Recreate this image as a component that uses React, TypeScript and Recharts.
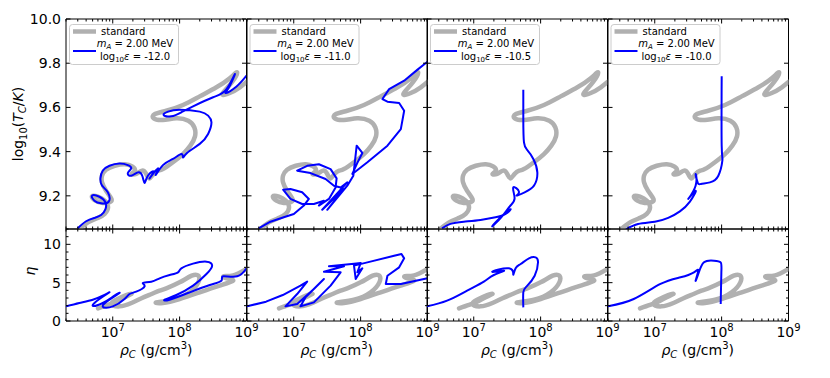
import { LineChart, Line, XAxis, YAxis, ReferenceArea } from 'recharts';

type Pt = [number, number]; // [log10 rho_C, value]

// standard track, log10(T_C/K)
const standardTop: Pt[] = [
  [6.5, 9.05], [6.63, 9.08], [6.78, 9.1], [6.88, 9.118], [6.93, 9.148], [6.88, 9.178],
  [6.78, 9.196], [6.69, 9.198], [6.74, 9.178], [6.85, 9.168], [6.95, 9.171], [6.98, 9.186],
  [6.9, 9.223], [6.84, 9.261], [6.84, 9.291], [6.9, 9.318], [7.03, 9.336], [7.18, 9.343],
  [7.29, 9.333], [7.33, 9.314], [7.28, 9.299], [7.35, 9.299], [7.44, 9.314], [7.5, 9.299],
  [7.55, 9.279], [7.61, 9.299], [7.68, 9.314], [7.75, 9.321], [7.9, 9.352], [8.05, 9.389],
  [8.16, 9.427], [8.23, 9.469], [8.22, 9.51], [8.13, 9.54], [7.95, 9.551], [7.75, 9.543],
  [7.61, 9.551], [7.63, 9.57], [7.8, 9.585], [8.05, 9.611], [8.3, 9.65], [8.55, 9.691],
  [8.75, 9.732], [8.86, 9.759], [8.78, 9.713], [8.64, 9.661], [8.75, 9.665], [8.9, 9.691],
  [9.0, 9.715],
];

// standard track, eta
const standardEta: Pt[] = [
  [6.78, 1.65], [6.93, 2.09], [7.05, 2.52], [7.18, 3.09], [7.28, 3.52], [7.2, 3.39],
  [7.05, 2.78], [6.98, 2.22], [7.1, 1.91], [7.28, 2.35], [7.43, 2.96], [7.58, 3.52],
  [7.7, 3.96], [7.8, 4.26], [8.0, 5.04], [8.18, 5.91], [8.28, 5.91], [8.28, 5.04],
  [8.15, 3.74], [7.9, 2.78], [7.65, 2.43], [7.75, 2.35], [8.0, 2.87], [8.3, 3.74],
  [8.6, 4.61], [8.8, 5.26], [8.7, 5.55], [8.66, 5.85], [8.8, 5.95], [9.0, 6.8],
];

// m_A = 2.00 MeV, log10 eps = -12.0
const blueTop12: Pt[] = [
  [6.476, 9.053], [6.601, 9.085], [6.726, 9.1], [6.826, 9.113], [6.891, 9.14], [6.891, 9.171],
  [6.801, 9.196], [6.691, 9.201], [6.726, 9.178], [6.826, 9.166], [6.941, 9.174], [6.926, 9.216],
  [6.841, 9.246], [6.816, 9.279], [6.851, 9.314], [6.951, 9.336], [7.101, 9.346], [7.226, 9.339],
  [7.276, 9.324], [7.226, 9.303], [7.276, 9.291], [7.376, 9.306], [7.441, 9.291], [7.476, 9.258],
  [7.526, 9.291], [7.611, 9.309], [7.551, 9.279], [7.676, 9.324], [7.641, 9.294], [7.751, 9.339],
  [7.901, 9.367], [8.026, 9.389], [8.051, 9.374], [8.111, 9.394], [8.301, 9.435], [8.426, 9.48],
  [8.476, 9.533], [8.426, 9.563], [8.301, 9.581], [8.001, 9.59], [7.826, 9.581], [7.761, 9.566],
  [7.876, 9.56], [8.026, 9.578], [8.201, 9.605], [8.501, 9.646], [8.701, 9.683], [8.826, 9.751],
  [8.751, 9.698], [8.691, 9.665], [8.851, 9.695], [9.0, 9.744],
];
const blueEta12: Pt[] = [
  [6.301, 1.91], [6.501, 2.35], [6.701, 2.78], [6.851, 3.3], [6.951, 3.74], [6.801, 2.87],
  [6.701, 2.0], [6.851, 2.35], [7.026, 3.3], [7.101, 3.65], [6.951, 2.78], [6.851, 1.87],
  [7.001, 1.91], [7.176, 2.87], [7.251, 3.52], [7.351, 3.83], [7.476, 4.52], [7.451, 4.96],
  [7.576, 5.13], [7.701, 5.57], [7.851, 6.0], [7.976, 6.35], [8.026, 6.87], [8.201, 7.48],
  [8.401, 7.74], [8.486, 7.22], [8.401, 6.13], [8.201, 4.61], [7.951, 3.39], [7.776, 2.78],
  [7.851, 2.78], [8.151, 3.74], [8.451, 4.7], [8.626, 5.26], [8.651, 5.83], [8.861, 5.83],
  [9.0, 6.87],
];

// log10 eps = -11.0
const blueTop11: Pt[] = [
  [6.476, 9.053], [6.651, 9.083], [6.851, 9.103], [7.001, 9.118], [7.151, 9.156], [7.226, 9.186],
  [7.126, 9.216], [6.951, 9.231], [6.841, 9.228], [6.951, 9.186], [7.126, 9.163], [7.301, 9.163],
  [7.451, 9.178], [7.376, 9.156], [7.526, 9.186], [7.626, 9.238], [7.641, 9.279], [7.551, 9.321],
  [7.376, 9.343], [7.201, 9.336], [7.051, 9.314], [7.251, 9.303], [7.476, 9.276], [7.601, 9.246],
  [7.701, 9.238], [7.801, 9.261], [7.426, 9.137], [7.751, 9.231], [7.501, 9.137], [7.801, 9.246],
  [7.891, 9.291], [7.941, 9.427], [8.026, 9.394], [7.951, 9.349], [7.876, 9.299], [8.101, 9.352],
  [8.401, 9.427], [8.601, 9.502], [8.651, 9.585], [8.576, 9.62], [8.401, 9.626], [8.326, 9.638],
  [8.426, 9.683], [8.651, 9.721], [8.851, 9.771], [9.0, 9.807],
];
const blueEta11: Pt[] = [
  [6.301, 1.91], [6.586, 2.52], [6.836, 3.39], [7.101, 4.61], [7.201, 5.13], [7.051, 3.52],
  [6.876, 1.91], [7.051, 2.22], [7.301, 4.17], [7.451, 5.48], [7.176, 3.09], [7.101, 1.91],
  [7.301, 2.43], [7.551, 4.61], [7.701, 6.35], [7.451, 6.43], [7.751, 7.13], [7.526, 7.13],
  [7.901, 7.48], [8.001, 7.57], [7.951, 6.35], [8.026, 6.87], [7.926, 5.48], [7.901, 7.22],
  [8.101, 7.65], [8.501, 8.52], [8.611, 8.74], [8.651, 8.17], [8.576, 7.0], [8.401, 5.91],
  [8.376, 4.83], [8.601, 4.83], [9.0, 5.57],
];

// log10 eps = -10.5
const blueTop105: Pt[] = [
  [6.526, 9.053], [6.651, 9.073], [6.851, 9.083], [7.101, 9.091], [7.326, 9.103], [7.476, 9.118],
  [7.551, 9.14], [7.426, 9.11], [7.276, 9.062], [7.411, 9.103], [7.541, 9.153], [7.611, 9.189],
  [7.591, 9.238], [7.676, 9.219], [7.641, 9.201], [7.761, 9.216], [7.901, 9.246], [7.951, 9.306],
  [7.891, 9.367], [7.801, 9.407], [7.751, 9.442], [7.741, 9.548], [7.741, 9.68],
];
const blueEta105: Pt[] = [
  [6.301, 1.91], [6.601, 2.65], [6.901, 3.96], [7.151, 5.13], [7.301, 6.0], [7.451, 6.57],
  [7.276, 6.43], [7.526, 6.87], [7.591, 6.04], [7.626, 6.87], [7.701, 7.43], [7.826, 8.17],
  [7.926, 8.3], [7.961, 7.65], [7.911, 5.91], [7.791, 4.52], [7.741, 3.74], [7.741, 1.78],
];

// log10 eps = -10.0
const blueTop10: Pt[] = [
  [6.576, 9.05], [6.751, 9.073], [7.001, 9.083], [7.201, 9.1], [7.376, 9.13], [7.526, 9.174],
  [7.611, 9.223], [7.501, 9.186], [7.611, 9.246], [7.611, 9.299], [7.641, 9.261], [7.691, 9.254],
  [7.826, 9.261], [7.951, 9.291], [8.011, 9.359], [8.001, 9.427], [8.001, 9.741],
];
const blueEta10: Pt[] = [
  [6.301, 1.91], [6.686, 2.87], [7.086, 4.83], [7.386, 5.7], [7.586, 6.35], [7.651, 6.57],
  [7.611, 5.26], [7.651, 6.13], [7.736, 7.65], [7.886, 7.87], [7.986, 7.65], [7.996, 6.35],
  [7.986, 2.22],
];

const epsLabels = ['-12.0', '-11.0', '-10.5', '-10.0'];
const blueTops = [blueTop12, blueTop11, blueTop105, blueTop10];
const blueEtas = [blueEta12, blueEta11, blueEta105, blueEta10];
// panel 2 has sharp spikes, keep straight segments there
const blueCurve: ('natural' | 'linear')[] = ['natural', 'linear', 'natural', 'natural'];

const xMajorTicks = [1e7, 1e8, 1e9];
const xMinorTicks = [
  2e6, 3e6, 4e6, 5e6, 6e6, 7e6, 8e6, 9e6,
  2e7, 3e7, 4e7, 5e7, 6e7, 7e7, 8e7, 9e7,
  2e8, 3e8, 4e8, 5e8, 6e8, 7e8, 8e8, 9e8,
];
const topMajorTicks = [9.2, 9.4, 9.6, 9.8, 10.0];
const etaMajorTicks = [0, 5, 10];
const etaMinorTicks = [1, 2, 3, 4, 6, 7, 8, 9, 11, 12];

const FONT = 'DejaVu Sans';
const GRAY = '#b0b0b0';
const BLUE = '#0000ff';
const PLOT_LEFT = 66;
const PLOT_W = 180.5;
const TOP_Y = 19;
const TOP_H = 210;
const BOT_Y = 229;
const BOT_H = 92;

const toRows = (pts: Pt[]) => pts.map(([lr, v]) => ({ rho: Math.pow(10, lr), v }));

function XTick(props: any) {
  const { x, y, payload, h, labels } = props;
  const v = payload.value;
  const major = xMajorTicks.includes(v);
  const len = major ? 4.5 : 2.5;
  const e = Math.round(Math.log10(v));
  return (
    <g>
      <line x1={x} y1={y} x2={x} y2={y - len} stroke="#000" strokeWidth={1} />
      <line x1={x} y1={y - h} x2={x} y2={y - h + len} stroke="#000" strokeWidth={1} />
      {labels && major && (
        <text x={x} y={y + 16} textAnchor="middle" fontSize={14} fontFamily={FONT} fill="#000">
          10<tspan dy={-6} fontSize={10}>{e}</tspan>
        </text>
      )}
    </g>
  );
}

function YTick(props: any) {
  const { x, y, payload, w, labels, majors, digits } = props;
  const v = payload.value;
  const major = majors.includes(v);
  const len = major ? 4.5 : 2.5;
  return (
    <g>
      <line x1={x} y1={y} x2={x + len} y2={y} stroke="#000" strokeWidth={1} />
      <line x1={x + w} y1={y} x2={x + w - len} y2={y} stroke="#000" strokeWidth={1} />
      {labels && major && (
        <text x={x - 5} y={y + 5} textAnchor="end" fontSize={14} fontFamily={FONT} fill="#000">
          {v.toFixed(digits)}
        </text>
      )}
    </g>
  );
}

function Panel({ col, row }: { col: number; row: number }) {
  const left = PLOT_LEFT + col * PLOT_W;
  const top = row === 0 ? TOP_Y : BOT_Y;
  const h = row === 0 ? TOP_H : BOT_H;
  const yDomain: [number, number] = row === 0 ? [9.05, 10] : [0, 12];
  const majors = row === 0 ? topMajorTicks : etaMajorTicks;
  const yTicks = row === 0 ? topMajorTicks : [...etaMajorTicks, ...etaMinorTicks];
  const std = row === 0 ? standardTop : standardEta;
  const blue = row === 0 ? blueTops[col] : blueEtas[col];

  return (
    <div style={{ position: 'absolute', left: left - 50, top: top - 10 }}>
      <LineChart width={PLOT_W + 75} height={h + 55} margin={{ top: 10, right: 25, bottom: 0, left: 0 }}>
        <XAxis
          dataKey="rho"
          type="number"
          scale="log"
          domain={[2e6, 1e9]}
          allowDataOverflow
          ticks={[...xMinorTicks, ...xMajorTicks]}
          interval={0}
          tickSize={0}
          tickMargin={0}
          axisLine={false}
          tickLine={false}
          height={45}
          tick={(p: any) => <XTick {...p} h={h} labels={row === 1} />}
        />
        <YAxis
          type="number"
          domain={yDomain}
          allowDataOverflow
          ticks={yTicks}
          interval={0}
          tickSize={0}
          tickMargin={0}
          axisLine={false}
          tickLine={false}
          width={50}
          tick={(p: any) => (
            <YTick {...p} w={PLOT_W} labels={col === 0} majors={majors} digits={row === 0 ? 1 : 0} />
          )}
        />
        <ReferenceArea
          x1={2e6}
          x2={1e9}
          y1={yDomain[0]}
          y2={yDomain[1]}
          fill="none"
          fillOpacity={0}
          stroke="#000"
          strokeWidth={1}
          ifOverflow="visible"
        />
        <Line
          data={toRows(std)}
          dataKey="v"
          type="natural"
          stroke={GRAY}
          strokeWidth={4.5}
          strokeLinejoin="round"
          strokeLinecap="round"
          dot={false}
          isAnimationActive={false}
        />
        <Line
          data={toRows(blue)}
          dataKey="v"
          type={blueCurve[col]}
          stroke={BLUE}
          strokeWidth={2}
          strokeLinejoin="round"
          dot={false}
          isAnimationActive={false}
        />
      </LineChart>
    </div>
  );
}

function LegendBox({ col }: { col: number }) {
  const x = PLOT_LEFT + col * PLOT_W + 3;
  return (
    <g transform={`translate(${x},24)`} fontFamily={FONT} fill="#000">
      <rect x={0.5} y={0.5} width={109} height={40} rx={3} fill="#fff" fillOpacity={0.8} stroke="#cccccc" />
      <line x1={4} y1={7.5} x2={27} y2={7.5} stroke={GRAY} strokeWidth={4.5} />
      <text x={32} y={11} fontSize={10}>standard</text>
      <line x1={4} y1={27} x2={27} y2={27} stroke={BLUE} strokeWidth={2} />
      <text x={66} y={23} fontSize={10} textAnchor="middle">
        <tspan fontStyle="italic">m</tspan>
        <tspan fontStyle="italic" fontSize={7} dy={2}>A</tspan>
        <tspan dy={-2}>{' = 2.00 MeV'}</tspan>
      </text>
      <text x={66} y={36} fontSize={10} textAnchor="middle">
        <tspan>log</tspan>
        <tspan fontSize={7} dy={2}>10</tspan>
        <tspan dy={-2} fontStyle="italic">ε</tspan>
        <tspan>{` = ${epsLabels[col]}`}</tspan>
      </text>
    </g>
  );
}

export default function App() {
  const cols = [0, 1, 2, 3];
  return (
    <div style={{ position: 'absolute', left: 0, top: 0, width: 830, height: 378, background: '#fff' }}>
      {cols.map((c) => <Panel key={`t${c}`} col={c} row={0} />)}
      {cols.map((c) => <Panel key={`b${c}`} col={c} row={1} />)}
      <svg width={830} height={378} style={{ position: 'absolute', left: 0, top: 0, pointerEvents: 'none' }}>
        {cols.map((c) => <LegendBox key={`l${c}`} col={c} />)}
        <text transform="translate(23,124) rotate(-90)" textAnchor="middle" fontSize={14} fontFamily={FONT}>
          log<tspan fontSize={10} dy={4}>10</tspan>
          <tspan dy={-4}>(</tspan>
          <tspan fontStyle="italic">T</tspan>
          <tspan fontStyle="italic" fontSize={10} dy={3}>C</tspan>
          <tspan dy={-3}>/</tspan>
          <tspan fontStyle="italic">K</tspan>)
        </text>
        <text transform="translate(35,271) rotate(-90)" textAnchor="middle" fontSize={14} fontFamily={FONT} fontStyle="italic">
          η
        </text>
        {cols.map((c) => (
          <text
            key={`x${c}`}
            x={PLOT_LEFT + c * PLOT_W + PLOT_W / 2}
            y={355}
            textAnchor="middle"
            fontSize={14}
            fontFamily={FONT}
          >
            <tspan fontStyle="italic">ρ</tspan>
            <tspan fontStyle="italic" fontSize={10} dy={3}>C</tspan>
            <tspan dy={-3}>{' (g/cm'}</tspan>
            <tspan fontSize={10} dy={-6}>3</tspan>
            <tspan dy={6}>)</tspan>
          </text>
        ))}
      </svg>
    </div>
  );
}
